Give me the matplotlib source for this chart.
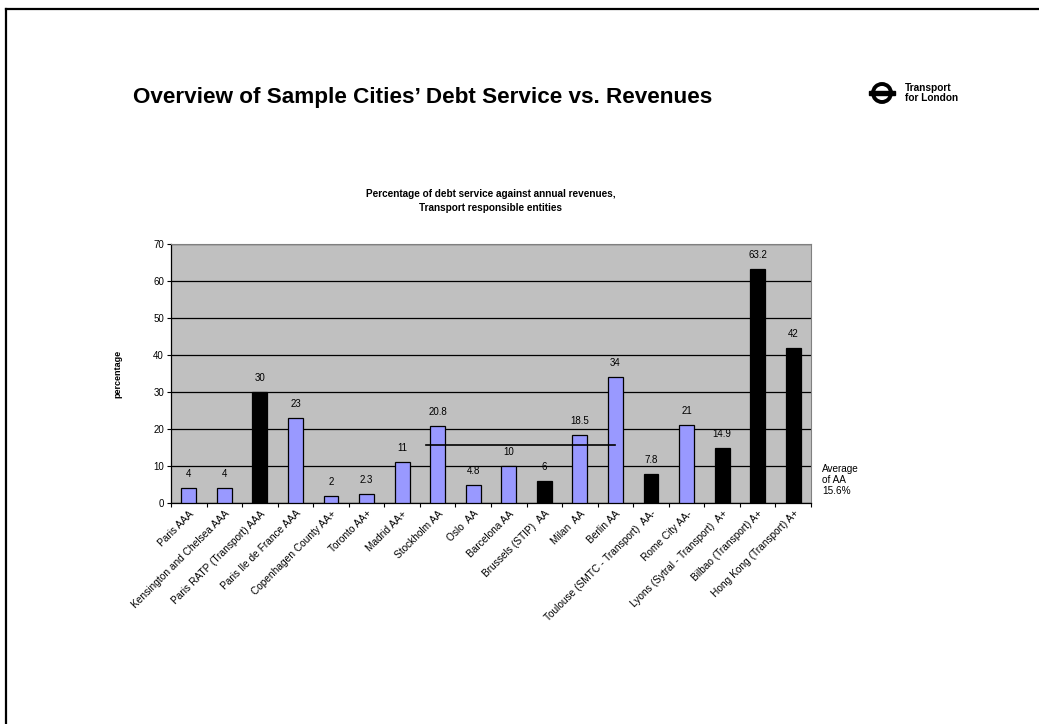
import numpy as np
import matplotlib
matplotlib.use("Agg")
import matplotlib.pyplot as plt
from matplotlib.patches import Circle, Rectangle
from matplotlib.lines import Line2D

plt.rcParams['font.family'] = ['Liberation Sans', 'DejaVu Sans']

# ---------------------------------------------------------------
cities = ['Paris AAA', 'Kensington and Chelsea AAA', 'Paris RATP (Transport) AAA',
          'Paris Ile de France AAA', 'Copenhagen County AA+', 'Toronto AA+',
          'Madrid AA+', 'Stockholm AA', 'Oslo  AA', 'Barcelona AA',
          'Brussels (STIP)  AA', 'Milan  AA', 'Berlin AA',
          'Toulouse (SMTC - Transport)  AA-', 'Rome City AA-',
          'Lyons (Sytral - Transport)  A+', 'Bilbao (Transport) A+',
          'Hong Kong (Transport) A+']
values = [4, 4, 30, 23, 2, 2.3, 11, 20.8, 4.8, 10, 6, 18.5, 34, 7.8, 21, 14.9, 63.2, 42]
value_labels = ['4', '4', '30', '23', '2', '2.3', '11', '20.8', '4.8', '10', '6',
                '18.5', '34', '7.8', '21', '14.9', '63.2', '42']
transport_entity = [0, 0, 1, 0, 0, 0, 0, 0, 0, 0, 1, 0, 0, 1, 0, 1, 1, 1]
aa_average = 15.6
aa_span = (6.67, 12.0)   # Stockholm .. Berlin
y_ticks = [0, 10, 20, 30, 40, 50, 60, 70]

W, H = 1039, 724
fig = plt.figure(figsize=(W / 100., H / 100.), dpi=100)

# slide frame ---------------------------------------------------
fig.add_artist(Line2D([6. / W, 1.0], [1 - 9. / H, 1 - 9. / H], color='black', lw=1.6))
fig.add_artist(Line2D([6. / W, 6. / W], [0.0, 1 - 9. / H], color='black', lw=1.6))

fig.text(133. / W, 1 - 98. / H, 'Overview of Sample Cities\u2019 Debt Service vs. Revenues',
         fontsize=16.2, fontweight='bold', va='center', ha='left')

# TfL roundel ---------------------------------------------------
ax_logo = fig.add_axes([866. / W, 1 - 105. / H, 32. / W, 24. / H])
ax_logo.set_xlim(0, 32)
ax_logo.set_ylim(0, 24)
ax_logo.set_aspect('equal')
ax_logo.axis('off')
ax_logo.add_patch(Circle((16, 12), 9.0, fill=False, lw=2.8, ec='black'))
ax_logo.add_patch(Rectangle((3, 10), 26, 4, color='black'))
fig.text(905. / W, 1 - 93. / H, 'Transport\nfor London', fontsize=7.3, fontweight='bold',
         va='center', ha='left', linespacing=1.0)

# chart ---------------------------------------------------------
ax = fig.add_axes([171. / W, 1 - 503. / H, 640. / W, 259. / H])
ax.set_facecolor('#C0C0C0')
x = np.arange(len(cities))
colors = ['black' if t else '#9999FF' for t in transport_entity]
ax.bar(x, values, width=0.42, color=colors, edgecolor='black', linewidth=0.9, zorder=3)
for xi, v, lab in zip(x, values, value_labels):
    ax.annotate(lab, (xi, v), xytext=(0, 6.5), textcoords='offset points',
                ha='center', va='bottom', fontsize=7)

ax.plot(aa_span, [aa_average, aa_average], color='black', lw=1.2, zorder=4)

ax.set_xlim(-0.5, len(cities) - 0.5)
ax.set_ylim(0, 70)
ax.set_yticks(y_ticks)
ax.yaxis.grid(True, color='black', lw=0.9, zorder=1)
ax.set_axisbelow(True)
ax.tick_params(axis='y', labelsize=7, length=3, width=0.8, pad=2)
ax.set_xticks(np.arange(len(cities) + 1) - 0.5, minor=True)
ax.set_xticks(x)
ax.set_xticklabels(cities, rotation=45, ha='right', rotation_mode='anchor', fontsize=7.3)
ax.tick_params(axis='x', which='major', length=0, pad=4)
ax.tick_params(axis='x', which='minor', length=3, width=0.8)
for s in ['top', 'right']:
    ax.spines[s].set_color('#808080')
    ax.spines[s].set_linewidth(0.8)
for s in ['left', 'bottom']:
    ax.spines[s].set_color('black')
    ax.spines[s].set_linewidth(0.9)

ax.set_ylabel('percentage', fontsize=6.5, fontweight='bold', labelpad=22)
ax.set_title('Percentage of debt service against annual revenues,\nTransport responsible entities',
             fontsize=7.2, fontweight='bold', pad=24, linespacing=1.45)

fig.text(822. / W, 1 - 480. / H, 'Average\nof AA\n15.6%', fontsize=7.2, va='center', ha='left',
         linespacing=1.15)

fig.savefig('out.png', dpi=100)
